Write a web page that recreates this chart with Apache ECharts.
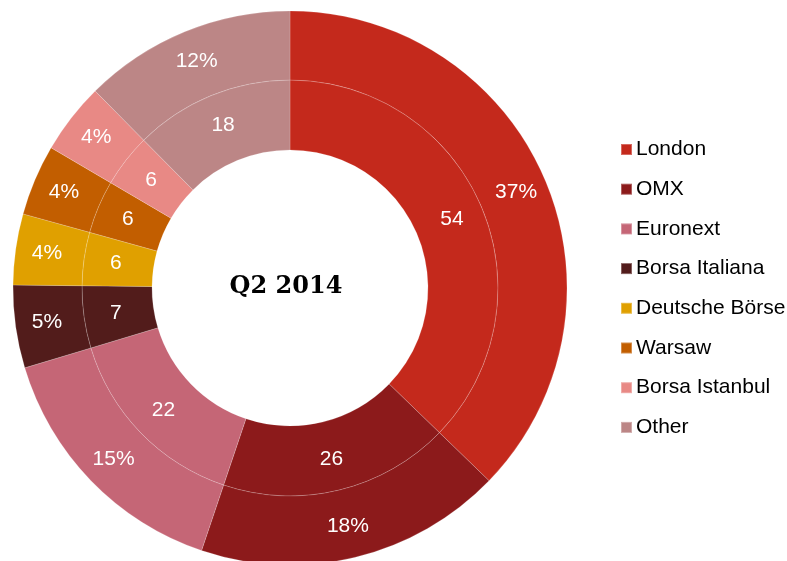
<!DOCTYPE html>
<html>
<head>
<meta charset="utf-8">
<script src="https://cdn.jsdelivr.net/npm/echarts@6/dist/echarts.min.js"></script>
<style>
  html, body { margin: 0; padding: 0; background: #fff; }
  #chart { width: 787px; height: 561px; }
</style>
</head>
<body>
<div id="chart"></div>
<script>
// Bolsas y número de transacciones, Q2 2014
const exchanges = ['London', 'OMX', 'Euronext', 'Borsa Italiana', 'Deutsche Börse', 'Warsaw', 'Borsa Istanbul', 'Other'];
const counts = [54, 26, 22, 7, 6, 6, 6, 18];
const colors = ['#C4291C', '#8C1A1B', '#C56676', '#521C1B', '#E0A000', '#C25E00', '#E88985', '#BC8686'];
const centerTitle = 'Q2 2014';

const chart = echarts.init(document.getElementById('chart'));

const pieData = exchanges.map((name, i) => ({
    name: name,
    value: counts[i],
    itemStyle: { color: colors[i] }
}));

const ringBorder = {
    borderColor: 'rgba(255,255,255,0.3)',
    borderWidth: 0.6
};

const labelStyle = {
    show: true,
    position: 'inside',
    color: '#fff',
    fontSize: 21,
    fontFamily: "'Liberation Sans', Arial, sans-serif"
};

chart.setOption({
    animation: false,
    backgroundColor: '#fff',
    legend: {
        orient: 'vertical',
        left: 615,
        top: 134,
        itemWidth: 11,
        itemHeight: 11,
        itemGap: 18.7,
        icon: 'rect',
        data: exchanges,
        textStyle: {
            color: '#000',
            fontSize: 21,
            fontFamily: "'Liberation Sans', Arial, sans-serif",
            padding: [0, 0, 0, -1]
        },
        selectedMode: false
    },
    graphic: [{
        type: 'text',
        x: 286,
        y: 287,
        style: {
            text: centerTitle,
            font: 'bold 24px "DejaVu Serif", serif',
            fill: '#000',
            textAlign: 'center',
            textVerticalAlign: 'middle'
        }
    }],
    series: [
        {
            // anillo interior: conteos
            name: 'count',
            type: 'pie',
            center: [290, 288],
            radius: [138, 208],
            startAngle: 90,
            clockwise: true,
            avoidLabelOverlap: false,
            data: pieData,
            itemStyle: ringBorder,
            label: Object.assign({}, labelStyle, { formatter: '{c}' }),
            labelLine: { show: false },
            emphasis: { disabled: true }
        },
        {
            // anillo exterior: porcentajes
            name: 'share',
            type: 'pie',
            center: [290, 288],
            radius: [208, 277],
            startAngle: 90,
            clockwise: true,
            avoidLabelOverlap: false,
            data: pieData,
            itemStyle: ringBorder,
            label: Object.assign({}, labelStyle, {
                formatter: p => Math.round(p.percent) + '%'
            }),
            labelLine: { show: false },
            emphasis: { disabled: true }
        }
    ]
});
</script>
</body>
</html>
